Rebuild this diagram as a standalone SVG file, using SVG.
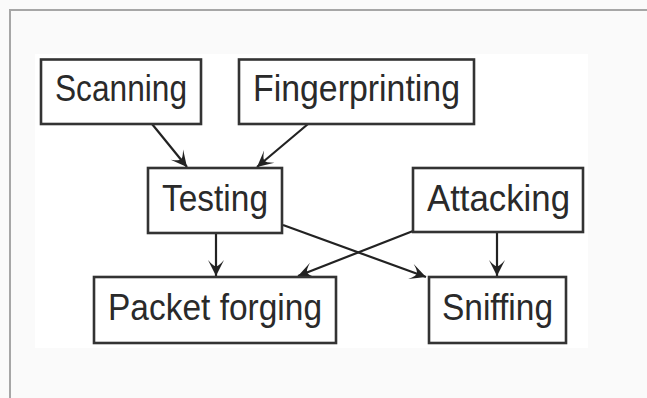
<svg xmlns="http://www.w3.org/2000/svg" width="647" height="398" viewBox="0 0 647 398">
<style>
.box{fill:#ffffff;stroke:#333333;stroke-width:2.6}
.lbl{font-family:"Liberation Sans",Arial,sans-serif;font-size:36px;fill:#2a2a2a;text-anchor:middle}
.edge{stroke:#222222;stroke-width:2.2;fill:none;marker-end:url(#ah)}
</style>
<defs>
<marker id="ah" markerUnits="userSpaceOnUse" markerWidth="20" markerHeight="20" viewBox="-17 -10 20 20" refX="0" refY="0" orient="auto">
<path d="M0,0 L-16,-8 Q-9,-2 -10,0 Q-9,2 -16,8 Z" fill="#222222"/>
</marker>
</defs>
<rect x="0" y="0" width="647" height="398" fill="#fafafa"/>
<path d="M10,398 V10 H647" fill="none" stroke="#a6a6a6" stroke-width="2"/>
<rect x="35" y="54" width="553" height="294" fill="#ffffff"/>
<g id="connectors">
<line class="edge" x1="152" y1="124" x2="187" y2="167"/>
<line class="edge" x1="308" y1="124" x2="257" y2="167"/>
<line class="edge" x1="216" y1="233" x2="216" y2="276"/>
<line class="edge" x1="497" y1="232" x2="497" y2="276"/>
<line class="edge" x1="283" y1="225" x2="426" y2="277"/>
<line class="edge" x1="413" y1="231" x2="298" y2="276"/>
</g>
<g id="scanning">
<rect class="box" x="41" y="59.5" width="160" height="64.5"/>
<text class="lbl" x="121" y="101" textLength="132" lengthAdjust="spacingAndGlyphs">Scanning</text>
</g>
<g id="fingerprinting">
<rect class="box" x="239" y="59.5" width="235" height="64.5"/>
<text class="lbl" x="356.5" y="101" textLength="207" lengthAdjust="spacingAndGlyphs">Fingerprinting</text>
</g>
<g id="testing">
<rect class="box" x="148" y="168" width="134" height="65"/>
<text class="lbl" x="215" y="211" textLength="106" lengthAdjust="spacingAndGlyphs">Testing</text>
</g>
<g id="attacking">
<rect class="box" x="413" y="168" width="170" height="64"/>
<text class="lbl" x="498.5" y="211" textLength="143" lengthAdjust="spacingAndGlyphs">Attacking</text>
</g>
<g id="packet-forging">
<rect class="box" x="94" y="277" width="242" height="66"/>
<text class="lbl" x="215" y="320" textLength="214" lengthAdjust="spacingAndGlyphs">Packet forging</text>
</g>
<g id="sniffing">
<rect class="box" x="429" y="277" width="137" height="66"/>
<text class="lbl" x="497.5" y="320" textLength="111" lengthAdjust="spacingAndGlyphs">Sniffing</text>
</g>
</svg>
